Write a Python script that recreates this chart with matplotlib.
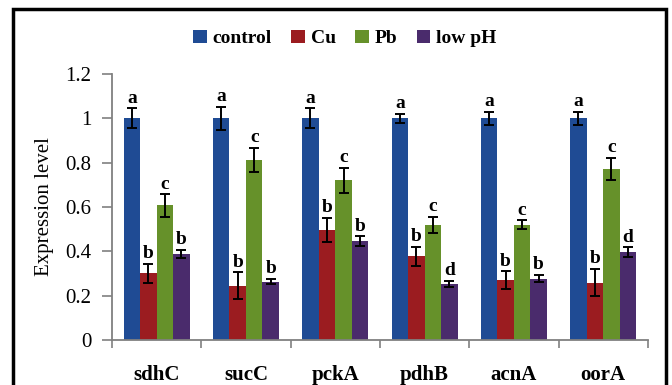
import numpy as np
import matplotlib
matplotlib.use("Agg")
from matplotlib import pyplot as plt
from matplotlib.patches import Rectangle, Patch

plt.rcParams["font.family"] = ["Liberation Serif", "DejaVu Serif"]

genes = ["sdhC", "sucC", "pckA", "pdhB", "acnA", "oorA"]
treatments = ["control", "Cu", "Pb", "low pH"]
colors = ["#1f4b94", "#9b1c20", "#66912a", "#4a2b6c"]

control = [1.0, 1.0, 1.0, 1.0, 1.0, 1.0]
cu = [0.30, 0.245, 0.495, 0.377, 0.269, 0.259]
pb = [0.607, 0.812, 0.72, 0.52, 0.52, 0.77]
low_ph = [0.388, 0.263, 0.445, 0.253, 0.277, 0.396]

control_err = [0.045, 0.053, 0.045, 0.02, 0.03, 0.03]
cu_err = [0.045, 0.06, 0.055, 0.043, 0.04, 0.06]
pb_err = [0.05, 0.055, 0.055, 0.037, 0.02, 0.05]
low_ph_err = [0.02, 0.012, 0.022, 0.012, 0.015, 0.022]

control_sig = ["a", "a", "a", "a", "a", "a"]
cu_sig = ["b", "b", "b", "b", "b", "b"]
pb_sig = ["c", "c", "c", "c", "c", "c"]
low_ph_sig = ["b", "b", "b", "d", "b", "d"]

series = [control, cu, pb, low_ph]
errors = [control_err, cu_err, pb_err, low_ph_err]
letters = [control_sig, cu_sig, pb_sig, low_ph_sig]

fig = plt.figure(figsize=(6.72, 3.85), dpi=100)
ax = fig.add_axes([0.1667, 0.1169, 0.7973, 0.691])

x = np.arange(len(genes))
width = 0.185
for i, (vals, errs, sig) in enumerate(zip(series, errors, letters)):
    pos = x + (i - 1.5) * width
    ax.bar(pos, vals, width, color=colors[i], edgecolor="none", zorder=2)
    ax.errorbar(pos, vals, yerr=errs, fmt="none", ecolor="black",
                elinewidth=1.4, capsize=3.5, capthick=1.4, zorder=3)
    for p, v, e, s in zip(pos, vals, errs, sig):
        ax.text(p, v + e + 0.008, s, ha="center", va="bottom",
                fontsize=14, fontweight="bold")

ax.set_xlim(-0.5, len(genes) - 0.5)
ax.set_ylim(0, 1.2)
ax.set_yticks(np.arange(0, 1.21, 0.2))
ax.set_yticklabels(["0", "0.2", "0.4", "0.6", "0.8", "1", "1.2"])
ax.set_xticks(x)
ax.set_xticklabels(genes)
ax.set_xticks(np.arange(-0.5, len(genes), 1.0), minor=True)

for side in ["top", "right"]:
    ax.spines[side].set_visible(False)
for side in ["left", "bottom"]:
    ax.spines[side].set_color("#808080")
    ax.spines[side].set_linewidth(1.3)

ax.tick_params(axis="y", length=7, width=1.2, color="#808080", pad=8,
               labelsize=15)
ax.tick_params(axis="x", which="major", length=0, pad=18, labelsize=15)
ax.tick_params(axis="x", which="minor", length=6, width=1.2, color="#808080")
for lbl in ax.get_xticklabels():
    lbl.set_fontweight("bold")

ax.set_ylabel("Expression level", fontsize=15, labelpad=8)

handles = [Patch(facecolor=c, edgecolor="none") for c in colors]
fig.legend(handles, treatments, loc="center", bbox_to_anchor=(0.513, 0.9),
           ncol=4, frameon=False, handlelength=0.7, handleheight=0.7,
           handletextpad=0.3, columnspacing=1.0,
           prop={"size": 14, "weight": "bold"})

# outer box around the whole figure
fig.patches.append(Rectangle((0.019, -0.1), 0.972, 1.077, transform=fig.transFigure,
                             fill=False, edgecolor="black", linewidth=2.5,
                             clip_on=False))

fig.savefig("out.png", dpi=100)
